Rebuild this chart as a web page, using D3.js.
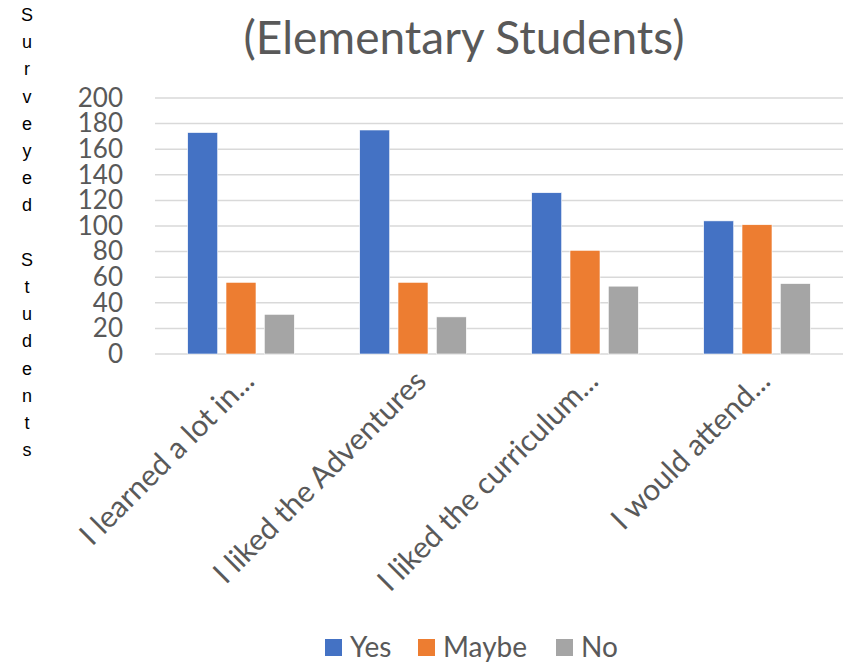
<!DOCTYPE html>
<html>
<head>
<meta charset="utf-8">
<script src="https://cdn.jsdelivr.net/npm/d3@7"></script>
<style>
  body { margin: 0; background: #fff; }
  text { font-family: Lato, "Open Sans", sans-serif; }
</style>
</head>
<body>
<div id="chart"></div>
<script>
// chart data
const categories = [
  'I learned a lot in...',
  'I liked the Adventures',
  'I liked the curriculum...',
  'I would attend...'
];
const seriesNames = ['Yes', 'Maybe', 'No'];
const yesValues = [173, 175, 126, 104];
const maybeValues = [56, 56, 81, 101];
const noValues = [31, 29, 53, 55];
const yTicks = [0, 20, 40, 60, 80, 100, 120, 140, 160, 180, 200];
const yTitle = 'Surveyed Students';
const chartTitle = '(Elementary Students)';

const colors = ['#4472C4', '#ED7D31', '#A5A5A5'];
const seriesValues = [yesValues, maybeValues, noValues];

const width = 850;
const height = 663;
const plot = { left: 155, right: 843, top: 98, bottom: 354 };

const svg = d3.select('#chart')
  .append('svg')
  .attr('width', width)
  .attr('height', height);

const x0 = d3.scaleBand()
  .domain(categories)
  .range([plot.left, plot.right]);

const x1 = d3.scaleBand()
  .domain(seriesNames)
  .range([0, x0.bandwidth()])
  .paddingInner(0.217)
  .paddingOuter(0.854);

const y = d3.scaleLinear()
  .domain([0, 200])
  .range([plot.bottom, plot.top]);

// gridlines
svg.append('g')
  .selectAll('line')
  .data(yTicks)
  .join('line')
  .attr('x1', plot.left)
  .attr('x2', plot.right)
  .attr('y1', d => y(d))
  .attr('y2', d => y(d))
  .attr('stroke', '#d9d9d9')
  .attr('stroke-width', 1.5);

// y tick labels
const yAxis = d3.axisLeft(y)
  .tickValues(yTicks)
  .tickSize(0)
  .tickPadding(0);

svg.append('g')
  .attr('transform', 'translate(123,0)')
  .call(yAxis)
  .call(g => g.select('.domain').remove())
  .call(g => g.selectAll('text')
    .attr('fill', '#595959')
    .style('font-size', '26px')
    .style('font-family', 'Lato, sans-serif'));

// bars
const groups = svg.append('g')
  .selectAll('g')
  .data(categories)
  .join('g')
  .attr('transform', d => `translate(${x0(d)},0)`);

groups.selectAll('rect')
  .data((d, i) => seriesNames.map((s, j) => ({ key: s, value: seriesValues[j][i], color: colors[j] })))
  .join('rect')
  .attr('x', d => x1(d.key))
  .attr('width', x1.bandwidth())
  .attr('y', d => y(d.value))
  .attr('height', d => y(0) - y(d.value))
  .attr('fill', d => d.color)
  .attr('stroke', '#fff')
  .attr('stroke-width', 0.6);

// x labels, rotated
const xAxis = d3.axisBottom(x0).tickSize(0).tickPadding(0);
svg.append('g')
  .attr('transform', `translate(0,${plot.bottom})`)
  .call(xAxis)
  .call(g => g.select('.domain').remove())
  .call(g => g.selectAll('text')
    .attr('fill', '#595959')
    .style('font-size', '30px')
    .style('font-family', 'Lato, sans-serif')
    .attr('text-anchor', 'end')
    .attr('dy', null)
    .attr('y', null)
    .attr('transform', 'translate(15,29) rotate(-45)'));

// title
svg.append('text')
  .attr('x', 464)
  .attr('y', 54)
  .attr('text-anchor', 'middle')
  .attr('fill', '#595959')
  .style('font-size', '46px')
  .text(chartTitle);

// vertical stacked y title
svg.append('text')
  .attr('fill', '#000')
  .style('font-family', '"Liberation Sans", Arial, sans-serif')
  .style('font-size', '18px')
  .attr('text-anchor', 'middle')
  .selectAll('tspan')
  .data(yTitle.split(''))
  .join('tspan')
  .attr('x', 27)
  .attr('y', (d, i) => 21 + 27.2 * i)
  .text(d => d);

// legend
const legendX = [325, 418, 556];
const legend = svg.append('g')
  .selectAll('g')
  .data(seriesNames)
  .join('g')
  .attr('transform', (d, i) => `translate(${legendX[i]},639)`);

legend.append('rect')
  .attr('width', 17)
  .attr('height', 17)
  .attr('fill', (d, i) => colors[i]);

legend.append('text')
  .attr('x', 25)
  .attr('y', 18)
  .attr('fill', '#595959')
  .style('font-size', '28px')
  .text(d => d);
</script>
</body>
</html>
